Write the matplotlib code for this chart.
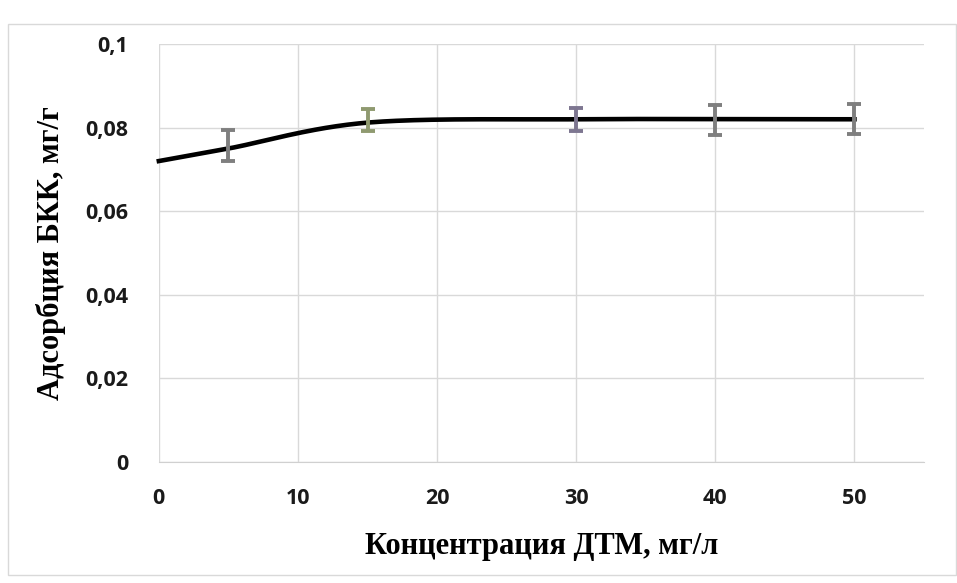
import numpy as np
import matplotlib
matplotlib.use("Agg")
import matplotlib.pyplot as plt
from matplotlib.patches import Rectangle
from matplotlib.ticker import FuncFormatter

# Data
conc = [0, 5, 15, 30, 40, 50]
adsorption = [0.0720, 0.0750, 0.0812, 0.0820, 0.0820, 0.0820]
err_x = [5, 15, 30, 40, 50]
err_y = [0.0757, 0.0818, 0.0820, 0.0818, 0.0820]
err_size = [0.0038, 0.0027, 0.0028, 0.0036, 0.0036]
err_colors = ["#7f7f7f", "#8f9a70", "#7d7690", "#7f7f7f", "#7f7f7f"]
x_ticks = [0, 10, 20, 30, 40, 50]
y_ticks = [0, 0.02, 0.04, 0.06, 0.08, 0.1]

plt.rcParams['font.family'] = ['Open Sans', 'DejaVu Sans']
plt.rcParams['font.weight'] = 'bold'


def smooth_curve(xs, ys, n=60):
    """Excel-style smoothed line (cardinal Bezier segments)."""
    xs = np.asarray(xs, float)
    ys = np.asarray(ys, float)
    out_x, out_y = [], []
    m = len(xs)
    t = np.linspace(0, 1, n)
    for i in range(m - 1):
        p0 = np.array([xs[max(i - 1, 0)], ys[max(i - 1, 0)]])
        p1 = np.array([xs[i], ys[i]])
        p2 = np.array([xs[i + 1], ys[i + 1]])
        p3 = np.array([xs[min(i + 2, m - 1)], ys[min(i + 2, m - 1)]])
        c1 = p1 + (p2 - p0) / 6.0
        c2 = p2 - (p3 - p1) / 6.0
        b = ((1 - t) ** 3)[:, None] * p1 + (3 * (1 - t) ** 2 * t)[:, None] * c1 \
            + (3 * (1 - t) * t ** 2)[:, None] * c2 + (t ** 3)[:, None] * p2
        out_x.extend(b[:, 0])
        out_y.extend(b[:, 1])
    return np.array(out_x), np.array(out_y)


fig = plt.figure(figsize=(9.57, 5.83), dpi=100)
fig.patches.append(Rectangle((8 / 957, 8 / 583), 1 - 9 / 957, 1 - 32 / 583,
                             transform=fig.transFigure, fill=False,
                             edgecolor="#d9d9d9", linewidth=1.0))
ax = fig.add_axes([0.166, 0.2075, 0.7995, 0.717])

ax.set_xlim(0, 55)
ax.set_ylim(0, 0.1)
ax.set_xticks(x_ticks)
ax.set_yticks(y_ticks)
ax.grid(True, color="#d9d9d9", linewidth=1.0)
ax.set_axisbelow(True)
for s in ["top", "right", "left"]:
    ax.spines[s].set_visible(False)
ax.spines["bottom"].set_color("#d0d0d0")
ax.tick_params(length=0, labelsize=15.5, labelcolor="#1a1a1a")
ax.tick_params(axis="x", pad=19)
ax.tick_params(axis="y", pad=22)

ax.xaxis.set_major_formatter(FuncFormatter(lambda v, p: f"{v:g}"))
ax.yaxis.set_major_formatter(FuncFormatter(lambda v, p: f"{v:g}".replace(".", ",")))

sx, sy = smooth_curve(conc, adsorption)
ax.plot(sx, sy, color="black", linewidth=3.3, zorder=3, clip_on=False)

for x, y, e, c in zip(err_x, err_y, err_size, err_colors):
    ax.errorbar(x, y, yerr=e, fmt="none", ecolor=c, elinewidth=2.8,
                capsize=5, capthick=2.8, zorder=4)

ax.set_xlabel("Концентрация ДТМ, мг/л", fontfamily="Liberation Serif",
              fontweight="bold", fontsize=22, labelpad=16)
ax.set_ylabel("Адсорбция БКК, мг/г", fontfamily="Liberation Serif",
              fontweight="bold", fontsize=22, labelpad=14)

fig.savefig("out.png", dpi=100)
